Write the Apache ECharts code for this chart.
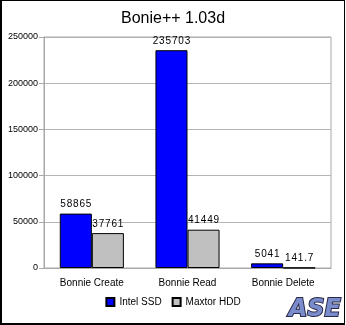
<!DOCTYPE html>
<html><head><meta charset="utf-8">
<script src="https://cdn.jsdelivr.net/npm/echarts@6/dist/echarts.min.js"></script>
<style>
html,body{margin:0;padding:0;background:#fff;}
#c{position:absolute;left:0;top:0;width:346px;height:325px;}
#b{position:absolute;left:0;top:0;width:345px;height:325px;box-sizing:border-box;border-left:2px solid #000;border-top:1px solid #000;border-right:1px solid #000;border-bottom:2px solid #000;pointer-events:none;}
</style></head>
<body><div id="c"></div><div id="b"></div>
<script>
const categories = ['Bonnie Create', 'Bonnie Read', 'Bonnie Delete'];
const intelSSD = [58865, 235703, 5041];
const maxtorHDD = [37761, 41449, 141.7];
const seriesNames = ['Intel SSD', 'Maxtor HDD'];
const yTicks = [0, 50000, 100000, 150000, 200000, 250000];

const chart = echarts.init(document.getElementById('c'));
const font = 'Liberation Sans, Arial, sans-serif';
const lbl = {show: true, position: 'top', fontSize: 10, color: '#000', fontFamily: font, distance: 4,
  formatter: p => String(p.value).split('').join('\u200A')};
chart.setOption({
  animation: false,
  title: {text: 'Bonie++ 1.03d', left: 'center', top: 6,
    textStyle: {fontSize: 16, fontWeight: 'normal', color: '#000', fontFamily: font}},
  grid: {left: 44, right: 15, top: 37, bottom: 57, show: true, borderColor: '#a8a8a8', borderWidth: 1},
  legend: {bottom: 13, left: 'center', itemWidth: 8, itemHeight: 8, itemGap: 10,
    textStyle: {fontSize: 10, color: '#000', fontFamily: font},
    data: seriesNames.map(n => ({name: n, icon: 'rect'}))},
  xAxis: {type: 'category', data: categories,
    axisLine: {lineStyle: {color: '#a8a8a8'}},
    axisTick: {alignWithLabel: true, length: 5, lineStyle: {color: '#a8a8a8'}},
    axisLabel: {fontSize: 10, color: '#000', fontFamily: font, margin: 10}},
  yAxis: {type: 'value', min: yTicks[0], max: yTicks[yTicks.length - 1], interval: 50000,
    axisLine: {show: true, lineStyle: {color: '#a8a8a8'}},
    axisTick: {show: true, length: 5, lineStyle: {color: '#a8a8a8'}},
    splitLine: {lineStyle: {color: '#b4b4b4'}},
    axisLabel: {fontSize: 9, color: '#000', fontFamily: font, margin: 6, formatter: v => String(v)}},
  series: [
    {name: seriesNames[0], type: 'bar', data: intelSSD, barGap: 0, barCategoryGap: '33%',
      itemStyle: {color: '#0000ff', borderColor: '#000', borderWidth: 1}, label: lbl},
    {name: seriesNames[1], type: 'bar', data: maxtorHDD,
      itemStyle: {color: '#c0c0c0', borderColor: '#000', borderWidth: 1}, label: lbl}
  ],
  graphic: [{type: 'text', right: 4, bottom: 2,
    style: {text: 'ASE', fontSize: 24, fontWeight: 900, fontStyle: 'italic', fontFamily: 'DejaVu Sans',
      fill: '#7a8ccc', stroke: '#2a2a4a', lineWidth: 2}}]
});
</script></body></html>
